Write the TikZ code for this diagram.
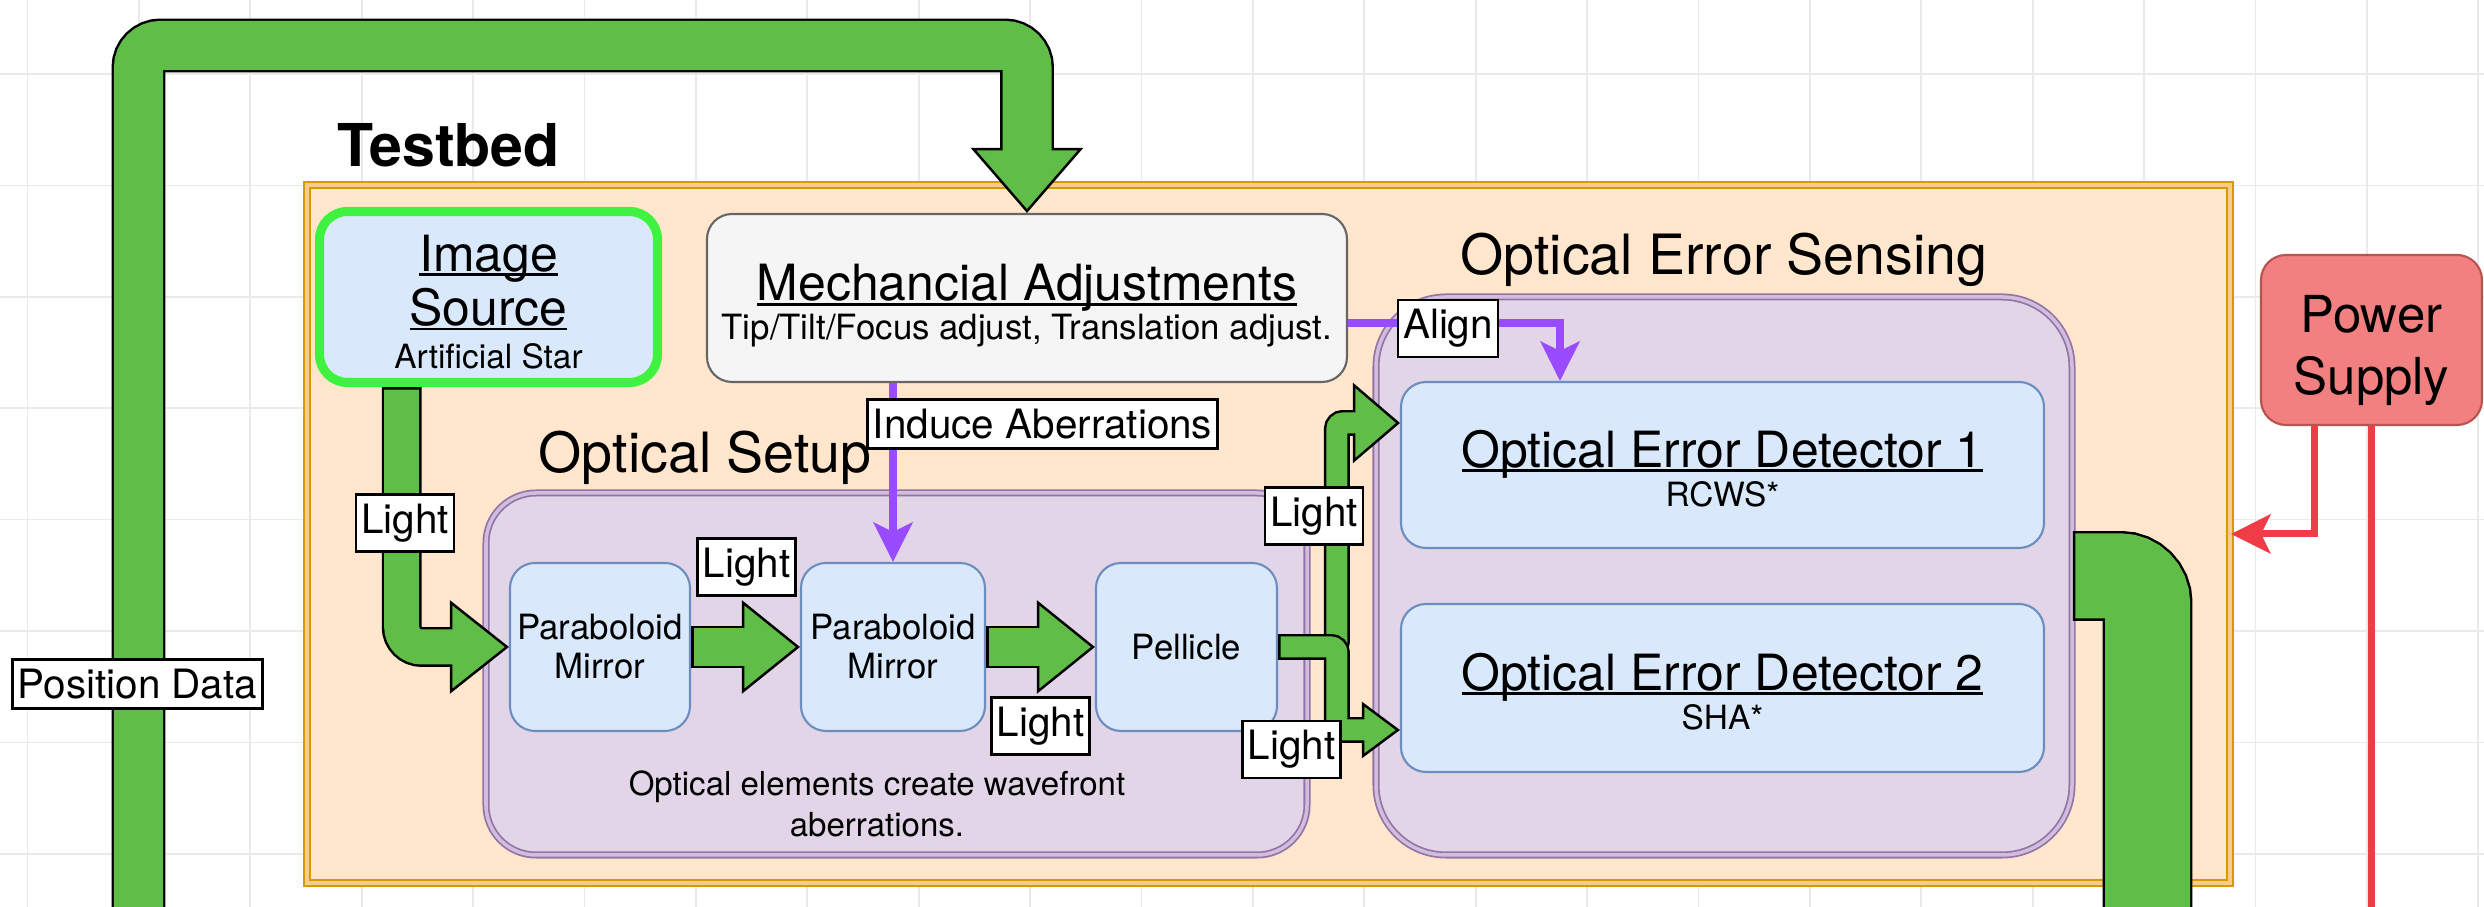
\documentclass[tikz,border=0pt]{standalone}
\usepackage{fontspec}
\setmainfont{TeX Gyre Heros}
\usetikzlibrary{calc,arrows.meta}

\definecolor{tbfill}{RGB}{255,230,204}
\definecolor{tbline}{RGB}{215,155,0}
\definecolor{tbgap}{RGB}{246,204,140}
\definecolor{pufill}{RGB}{225,213,231}
\definecolor{puline}{RGB}{150,115,166}
\definecolor{pugap}{RGB}{208,190,222}
\definecolor{blfill}{RGB}{218,232,252}
\definecolor{blline}{RGB}{108,142,191}
\definecolor{gyfill}{RGB}{245,245,245}
\definecolor{gyline}{RGB}{102,102,102}
\definecolor{rdfill}{RGB}{242,128,128}
\definecolor{rdline}{RGB}{184,84,80}
\definecolor{flexgreen}{RGB}{96,190,72}
\definecolor{srcgreen}{RGB}{64,242,64}
\definecolor{adjust}{RGB}{153,76,255}
\definecolor{power}{RGB}{240,60,70}
\definecolor{gridc}{RGB}{234,234,234}

\newcommand{\uln}[1]{\setbox0\hbox{#1}\rlap{\rule[-0.1em]{\wd0}{0.055em}}\box0}
\newcommand{\topgap}[1]{\rule{0pt}{#1}}
\newcommand{\fhead}{\fontsize{14.2}{15.4}\selectfont}
\newcommand{\fsmall}{\fontsize{9.9}{11.1}\selectfont}
\newcommand{\fnote}{\fontsize{9.5}{11}\selectfont}
\newcommand{\flabel}{\fontsize{11.5}{13}\selectfont}
\newcommand{\fgroup}{\fontsize{15.8}{18}\selectfont}

% flex arrow: shaft, head width, head length, corner, path
\newcommand{\flexarrow}[5]{%
  \draw[black, line width=#1+1.4pt, rounded corners=#4,
    -{Triangle[length=#3, width=#2, fill=flexgreen, line width=0.7pt]}] #5;
  \draw[flexgreen, line width=#1, rounded corners=#4,
    shorten <=0.7pt, shorten >=#3-1.5pt] #5;
}
% flex arrow body only (head outside the picture)
\newcommand{\flexshaft}[3]{%
  \draw[black, line width=#1+1.4pt, rounded corners=#2] #3;
  \draw[flexgreen, line width=#1, rounded corners=#2, shorten <=0.7pt] #3;
}

\tikzset{%
  gridline/.style = { draw=gridc, line width=0.5pt },
  frame/.style = { rectangle, fill=tbfill, draw=tbline, double=tbgap, line width=0.6pt, double distance=1.1pt },
  cluster/.style = { rectangle, rounded corners=#1, fill=pufill, draw=puline, double=pugap, line width=0.5pt, double distance=1pt },
  element/.style = { rectangle, rounded corners=0.25cm, fill=blfill, draw=blline, line width=0.6pt, align=center, inner sep=0pt },
  lbl/.style = { rectangle, draw=black, fill=white, line width=0.7pt, inner xsep=1.5pt, inner ysep=2.7pt, font=\flabel },
  adjarrow/.style = { draw=adjust, line width=2.2pt, -{Stealth[length=0.4cm, width=0.4cm, inset=0.1cm, line width=0.4pt]} },
  powerline/.style = { draw=power, line width=2pt }
}

\begin{document}
\begin{tikzpicture}

  \useasboundingbox (0,0) rectangle (24.84,9.07);
  \fill[white] (0,0) rectangle (24.84,9.07);
  \clip (0,0) rectangle (24.84,9.07);

  % Background grid
  \foreach \k in {0,...,22} {
    \draw[gridline] ({0.275+1.114*\k},0) -- ++(0,9.07);
  }
  \foreach \k in {0,...,7} {
    \draw[gridline] (0,{8.33-1.114*\k}) -- ++(24.84,0);
  }

  % Testbed
  \node[frame, minimum width=19.23cm, minimum height=6.98cm] (testbed) at (12.685,3.73) {};
  \node[font=\bfseries\fontsize{16.8}{20}\selectfont] (tbtitle) at (4.485,7.62) {Testbed};

  % Groups
  \node[cluster=0.5cm, minimum width=8.21cm, minimum height=3.62cm] (setup) at (8.965,2.33) {};
  \node[cluster=0.7cm, minimum width=6.96cm, minimum height=5.58cm] (sensing) at (17.24,3.31) {};
  \node[font=\fgroup] (setuptitle) at (7.05,4.49) {Optical Setup};
  \node[font=\fgroup] (sensingtitle) at (17.24,6.47) {Optical Error Sensing};
  \node[font=\fontsize{9.4}{11.7}\selectfont, align=center] (setupnote) at (8.77,1.03) {Optical elements create wavefront\\aberrations.};

  % Elements
  \node[element, draw=srcgreen, line width=2.6pt, rounded corners=0.28cm, minimum width=3.38cm, minimum height=1.71cm, font=\fhead] (source) at (4.885,6.10) {\topgap{0.46cm}\uln{Image}\\\uln{Source}\\[-3.2pt]{\fnote Artificial Star}};
  \node[element, fill=gyfill, draw=gyline, minimum width=6.40cm, minimum height=1.68cm, font=\fhead] (mech) at (10.27,6.09) {\topgap{0.52cm}\uln{Mechancial Adjustments}\\[-4.3pt]{\fsmall Tip/Tilt/Focus adjust, Translation adjust.}};

  \node[element, minimum width=1.80cm, minimum height=1.68cm, font=\fsmall] (mirror1) at (6.00,2.60) {Paraboloid\\Mirror};
  \node[element, minimum width=1.84cm, minimum height=1.68cm, font=\fsmall] (mirror2) at (8.93,2.60) {Paraboloid\\Mirror};
  \node[element, minimum width=1.81cm, minimum height=1.68cm, font=\fsmall] (pellicle) at (11.865,2.60) {Pellicle};

  \node[element, minimum width=6.43cm, minimum height=1.66cm, font=\fhead] (detector1) at (17.225,4.42) {\topgap{0.44cm}\uln{Optical Error Detector 1}\\[-4.3pt]{\fnote RCWS*}};
  \node[element, minimum width=6.43cm, minimum height=1.68cm, font=\fhead] (detector2) at (17.225,2.19) {\topgap{0.44cm}\uln{Optical Error Detector 2}\\[-4.3pt]{\fnote SHA*}};

  \node[element, fill=rdfill, draw=rdline, minimum width=2.21cm, minimum height=1.70cm, font=\fontsize{14.5}{17.4}\selectfont] (power) at (23.715,5.67) {\topgap{0.58cm}Power\\Supply};

  % Position data
  \flexarrow{0.49cm}{1.12cm}{0.65cm}{0.22cm}{(1.385,-0.5) |- (mech.north |- 0,8.615) -- (mech.north)}
  \flexshaft{0.85cm}{0.27cm}{(sensing.east) -| (21.475,-0.5)}

  % Light path
  \flexarrow{0.35cm}{0.93cm}{0.59cm}{0.2cm}{($(source.south west)!0.25!(source.south east)$) |- (mirror1.west)}
  \flexarrow{0.38cm}{0.93cm}{0.58cm}{0cm}{(mirror1.east) -- (mirror2.west)}
  \flexarrow{0.38cm}{0.93cm}{0.58cm}{0cm}{(mirror2.east) -- (pellicle.west)}
  \flexarrow{0.21cm}{0.80cm}{0.47cm}{0.06cm}{(pellicle.east) -| ($(detector1.west)+(-0.63,0.42)$) -- ($(detector1.west)+(0,0.42)$)}
  \flexarrow{0.21cm}{0.56cm}{0.38cm}{0.06cm}{(pellicle.east) -| ($(detector2.west)+(-0.63,-0.42)$) -- ($(detector2.west)+(0,-0.42)$)}

  % Adjustments
  \draw[adjarrow] (mech.south -| mirror2.north) -- (mirror2.north);
  \draw[adjarrow] ($(mech.east)+(0,-0.25)$) -| ($(detector1.north)+(-1.625,0)$);

  % Power
  \coordinate (powerout) at (23.715,-0.3);
  \draw[powerline, -{Stealth[length=0.4cm, width=0.4cm, inset=0.1cm, line width=0.4pt]}] ($(power.south)+(-0.575,0)$) |- (testbed.east);
  \draw[powerline] (power.south) -- (powerout);

  % Labels
  \node[lbl] (posdata) at (1.375,2.23) {Position Data};
  \node[lbl] (light1) at (4.05,3.84) {Light};
  \node[lbl] (light2) at (7.465,3.40) {Light};
  \node[lbl] (light3) at (10.405,1.81) {Light};
  \node[lbl] (light4) at (13.14,3.91) {Light};
  \node[lbl] (light5) at (12.915,1.575) {Light};
  \node[lbl] (induce) at (10.425,4.83) {Induce Aberrations};
  \node[lbl] (alignlbl) at (14.48,5.785) {Align};

\end{tikzpicture}
\end{document}
